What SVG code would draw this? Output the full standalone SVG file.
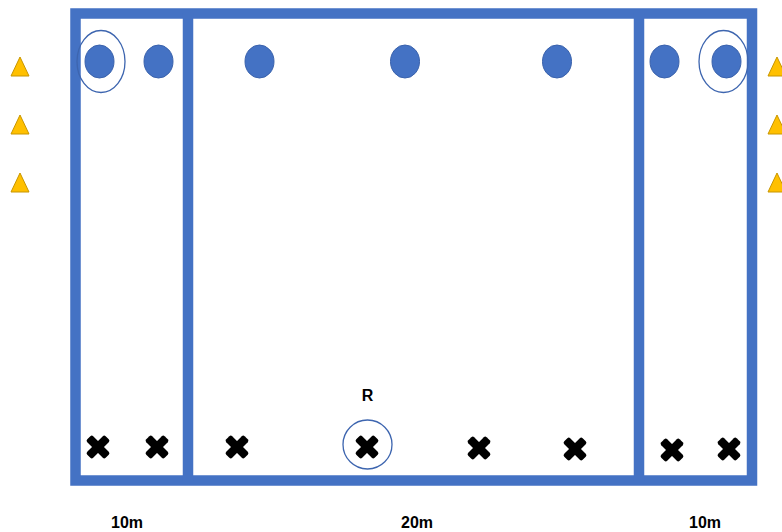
<svg xmlns="http://www.w3.org/2000/svg" width="782" height="532" viewBox="0 0 782 532">
<style>
.wall{fill:none;stroke:#4472C4;stroke-width:10.5}
.dot{fill:#4472C4;stroke:#3A62AC;stroke-width:1}
.ring{fill:none;stroke:#3D65AF;stroke-width:1.3}
.tri{fill:#FFC000;stroke:#C89600;stroke-width:1}
.x{fill:#000}
.lbl{font-family:"Liberation Sans",Arial,sans-serif;font-weight:bold;font-size:16px;fill:#000;text-anchor:middle}
</style>
<defs>
<g id="cross">
<rect x="-13" y="-4.2" width="26" height="8.4" rx="2" transform="rotate(45)"/>
<rect x="-13" y="-4.2" width="26" height="8.4" rx="2" transform="rotate(-45)"/>
</g>
<polygon id="tri" points="0,-9.5 9,9.5 -9,9.5"/>
</defs>
<g id="field">
<rect class="wall" x="75.5" y="13.5" width="676.5" height="467"/>
<line class="wall" x1="188" y1="13.5" x2="188" y2="480.5"/>
<line class="wall" x1="639" y1="13.5" x2="639" y2="480.5"/>
</g>
<g id="cones">
<use href="#tri" class="tri" x="20" y="66.5"/>
<use href="#tri" class="tri" x="20" y="124.5"/>
<use href="#tri" class="tri" x="20" y="182.5"/>
<use href="#tri" class="tri" x="777" y="66.5"/>
<use href="#tri" class="tri" x="777" y="124.5"/>
<use href="#tri" class="tri" x="777" y="182.5"/>
</g>
<g id="dots">
<ellipse class="dot" cx="99.5" cy="61.5" rx="14.5" ry="16.5"/>
<ellipse class="dot" cx="158.5" cy="61.5" rx="14.5" ry="16.5"/>
<ellipse class="dot" cx="259.5" cy="61.5" rx="14.5" ry="16.5"/>
<ellipse class="dot" cx="405" cy="61.5" rx="14.5" ry="16.5"/>
<ellipse class="dot" cx="557" cy="61.5" rx="14.5" ry="16.5"/>
<ellipse class="dot" cx="664.5" cy="61.5" rx="14.5" ry="16.5"/>
<ellipse class="dot" cx="726.5" cy="61.5" rx="14.5" ry="16.5"/>
<ellipse class="ring" cx="101" cy="61.5" rx="24" ry="31"/>
<ellipse class="ring" cx="723.5" cy="61.5" rx="24.5" ry="31"/>
</g>
<g id="crosses">
<use href="#cross" class="x" x="98" y="447"/>
<use href="#cross" class="x" x="157" y="447"/>
<use href="#cross" class="x" x="237" y="447"/>
<use href="#cross" class="x" x="367" y="447"/>
<use href="#cross" class="x" x="479" y="448"/>
<use href="#cross" class="x" x="575" y="449"/>
<use href="#cross" class="x" x="672" y="450"/>
<use href="#cross" class="x" x="729" y="449"/>
<circle class="ring" cx="367.5" cy="444.5" r="24.5"/>
<text class="lbl" x="367.5" y="401">R</text>
</g>
<g id="labels">
<text class="lbl" x="127" y="528">10m</text>
<text class="lbl" x="417" y="528">20m</text>
<text class="lbl" x="705" y="528">10m</text>
</g>
</svg>
